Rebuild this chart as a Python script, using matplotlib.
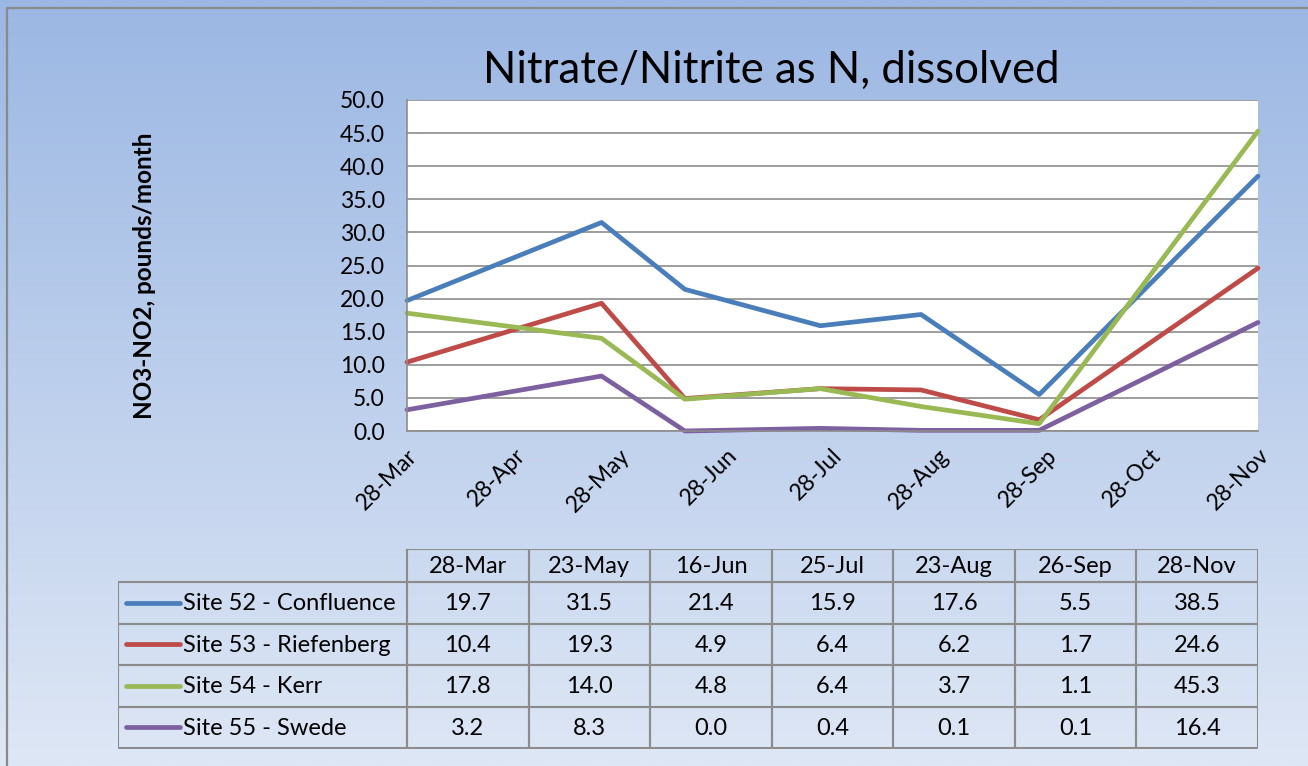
import numpy as np
import pandas as pd
import matplotlib
matplotlib.use('Agg')
import matplotlib.pyplot as plt
import matplotlib.dates as mdates
from matplotlib.patches import Rectangle

# Datos del gráfico
fechas = ['2011-03-28', '2011-05-23', '2011-06-16', '2011-07-25', '2011-08-23', '2011-09-26', '2011-11-28']
etiquetas_fechas = ['28-Mar', '23-May', '16-Jun', '25-Jul', '23-Aug', '26-Sep', '28-Nov']
sitios = ['Site 52 - Confluence', 'Site 53 - Riefenberg', 'Site 54 - Kerr', 'Site 55 - Swede']
site52 = [19.7, 31.5, 21.4, 15.9, 17.6, 5.5, 38.5]
site53 = [10.4, 19.3, 4.9, 6.4, 6.2, 1.7, 24.6]
site54 = [17.8, 14.0, 4.8, 6.4, 3.7, 1.1, 45.3]
site55 = [3.2, 8.3, 0.0, 0.4, 0.1, 0.1, 16.4]
colores = ['#4a7ebb', '#be4b48', '#98b954', '#7d60a0']

series = [site52, site53, site54, site55]
x = pd.to_datetime(fechas)

plt.rcParams['font.family'] = ['Lato', 'DejaVu Sans']

W, H = 1308, 766
fig = plt.figure(figsize=(W / 100, H / 100), dpi=100)

def rect(x0, y0, x1, y1):
    # convierte pixeles (origen arriba-izquierda) a fracciones de figura
    return [x0 / W, 1 - y1 / H, (x1 - x0) / W, (y1 - y0) / H]

# Fondo con degradado
bg = fig.add_axes([0, 0, 1, 1], zorder=-10)
grad = np.linspace(0, 1, 256).reshape(-1, 1)
top = np.array([155, 183, 227]) / 255
bot = np.array([222, 231, 245]) / 255
img = top + (bot - top) * grad[:, :, None]
bg.imshow(img, aspect='auto', extent=[0, W, H, 0])
bg.set_xlim(0, W)
bg.set_ylim(H, 0)
bg.plot([6.5, 6.5, W], [H, 7.5, 7.5], color='#8a8a8a', lw=1.6)
bg.axis('off')

# Grafico de lineas
ax = fig.add_axes(rect(407, 100, 1258, 431))
ax.set_facecolor('white')
for vals, c in zip(series, colores):
    ax.plot(x, vals, color=c, lw=3.4, solid_capstyle='round', clip_on=False)

ax.set_ylim(0, 50)
ax.set_yticks(np.arange(0, 50.1, 5))
ax.yaxis.set_major_formatter(matplotlib.ticker.FormatStrFormatter('%.1f'))
ax.set_xlim(pd.Timestamp('2011-03-28'), pd.Timestamp('2011-11-28'))
ticks = pd.date_range('2011-03-28', '2011-11-28', freq=pd.DateOffset(months=1))
ax.set_xticks(ticks)
ax.xaxis.set_major_formatter(mdates.DateFormatter('%d-%b'))
plt.setp(ax.get_xticklabels(), rotation=45, ha='right', rotation_mode='anchor')
ax.tick_params(axis='both', labelsize=16.5, length=0, colors='black')
ax.tick_params(axis='y', pad=16)
ax.tick_params(axis='x', pad=10)
ax.grid(axis='y', color='#8c8c8c', lw=1.2)
ax.set_axisbelow(True)
for s in ['top', 'right']:
    ax.spines[s].set_visible(False)
for s in ['left', 'bottom']:
    ax.spines[s].set_color('#8c8c8c')
    ax.spines[s].set_linewidth(1.2)

fig.text(771 / W, 1 - 70 / H, 'Nitrate/Nitrite as N, dissolved', fontsize=31.5,
         ha='center', va='center')
fig.text(145 / W, 1 - 276 / H, 'NO3-NO2, pounds/month', fontsize=17.5, fontweight='bold',
         rotation=90, ha='center', va='center')

# Tabla de datos
tx0, tx1 = 118, 1258
tab = fig.add_axes(rect(tx0, 549, tx1, 749))
tab.set_xlim(tx0, tx1)
tab.set_ylim(749, 549)
tab.axis('off')
borde = '#8c8c8c'
col_x = np.linspace(407, 1258, len(etiquetas_fechas) + 1)
fila_y = [549, 582, 623.5, 665, 706.5, 748]
fs = 17

for j, etiqueta in enumerate(etiquetas_fechas):
    tab.add_patch(Rectangle((col_x[j], fila_y[0]), col_x[j + 1] - col_x[j], fila_y[1] - fila_y[0],
                            fill=False, ec=borde, lw=1.5))
    tab.text((col_x[j] + col_x[j + 1]) / 2, (fila_y[0] + fila_y[1]) / 2 + 1, etiqueta,
             fontsize=fs, ha='center', va='center')

for i, (nombre, vals, c) in enumerate(zip(sitios, series, colores)):
    y0, y1 = fila_y[i + 1], fila_y[i + 2]
    ym = (y0 + y1) / 2
    tab.add_patch(Rectangle((tx0, y0), 407 - tx0, y1 - y0, fill=False, ec=borde, lw=1.5))
    tab.plot([126, 180], [ym, ym], color=c, lw=3.4, solid_capstyle='round')
    tab.text(183, ym + 1, nombre, fontsize=fs, ha='left', va='center')
    for j, v in enumerate(vals):
        tab.add_patch(Rectangle((col_x[j], y0), col_x[j + 1] - col_x[j], y1 - y0,
                                fill=False, ec=borde, lw=1.5))
        tab.text((col_x[j] + col_x[j + 1]) / 2, ym + 1, f'{v:.1f}', fontsize=fs,
                 ha='center', va='center')

fig.savefig('out.png', dpi=100)
